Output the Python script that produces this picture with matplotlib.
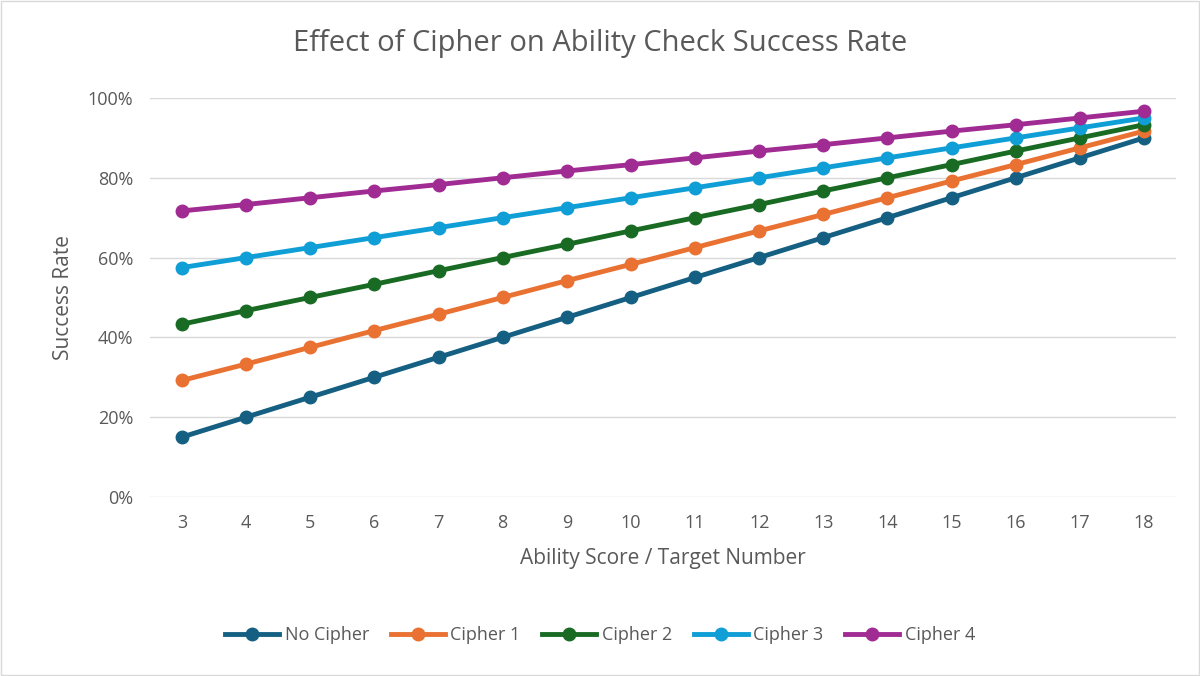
import matplotlib.pyplot as plt
from matplotlib.ticker import PercentFormatter

plt.rcParams['font.family'] = ['Open Sans', 'DejaVu Sans']

scores = list(range(3, 19))
no_cipher = [15, 20, 25, 30, 35, 40, 45, 50, 55, 60, 65, 70, 75, 80, 85, 90]
cipher1 = [29.2, 33.3, 37.5, 41.7, 45.8, 50, 54.2, 58.3, 62.5, 66.7, 70.8, 75, 79.2, 83.3, 87.5, 91.7]
cipher2 = [43.3, 46.7, 50, 53.3, 56.7, 60, 63.3, 66.7, 70, 73.3, 76.7, 80, 83.3, 86.7, 90, 93.3]
cipher3 = [57.5, 60, 62.5, 65, 67.5, 70, 72.5, 75, 77.5, 80, 82.5, 85, 87.5, 90, 92.5, 95]
cipher4 = [71.7, 73.3, 75, 76.7, 78.3, 80, 81.7, 83.3, 85, 86.7, 88.3, 90, 91.7, 93.3, 95, 96.7]

series = [('No Cipher', no_cipher, '#156082'),
          ('Cipher 1', cipher1, '#E97132'),
          ('Cipher 2', cipher2, '#196B24'),
          ('Cipher 3', cipher3, '#0F9ED5'),
          ('Cipher 4', cipher4, '#A02B93')]

fig = plt.figure(figsize=(12, 6.76), dpi=100)
ax = fig.add_axes([0.125, 0.265, 0.855, 0.59])
fig.patches.append(plt.Rectangle((0.001, 0.001), 0.998, 0.998, transform=fig.transFigure,
                                 fill=False, edgecolor='#d9d9d9', linewidth=1))

for name, vals, c in series:
    ax.plot(scores, [v / 100 for v in vals], color=c, linewidth=3.5, marker='o',
            markersize=9, label=name)

ax.set_ylim(0, 1.0)
ax.set_xlim(2.5, 18.5)
ax.set_xticks(scores)
ax.set_yticks([0, 0.2, 0.4, 0.6, 0.8, 1.0])
ax.yaxis.set_major_formatter(PercentFormatter(1.0, decimals=0))
ax.grid(axis='y', color='#d9d9d9', linewidth=1)
ax.set_axisbelow(True)
for s in ['top', 'right', 'left', 'bottom']:
    ax.spines[s].set_visible(False)
ax.tick_params(length=0, labelsize=13, colors='#595959', pad=12)
ax.set_xlabel('Ability Score / Target Number', fontsize=15, color='#595959', labelpad=12)
ax.set_ylabel('Success Rate', fontsize=15, color='#595959', labelpad=10)
fig.text(0.5, 0.935, 'Effect of Cipher on Ability Check Success Rate', ha='center',
         va='center', fontsize=21, color='#595959')
fig.legend(loc='center', bbox_to_anchor=(0.5, 0.06), ncol=5, frameon=False,
           fontsize=13, labelcolor='#595959', handlelength=3, columnspacing=1.2,
           handletextpad=0.3)

fig.savefig('out.png', dpi=100, facecolor='white')
